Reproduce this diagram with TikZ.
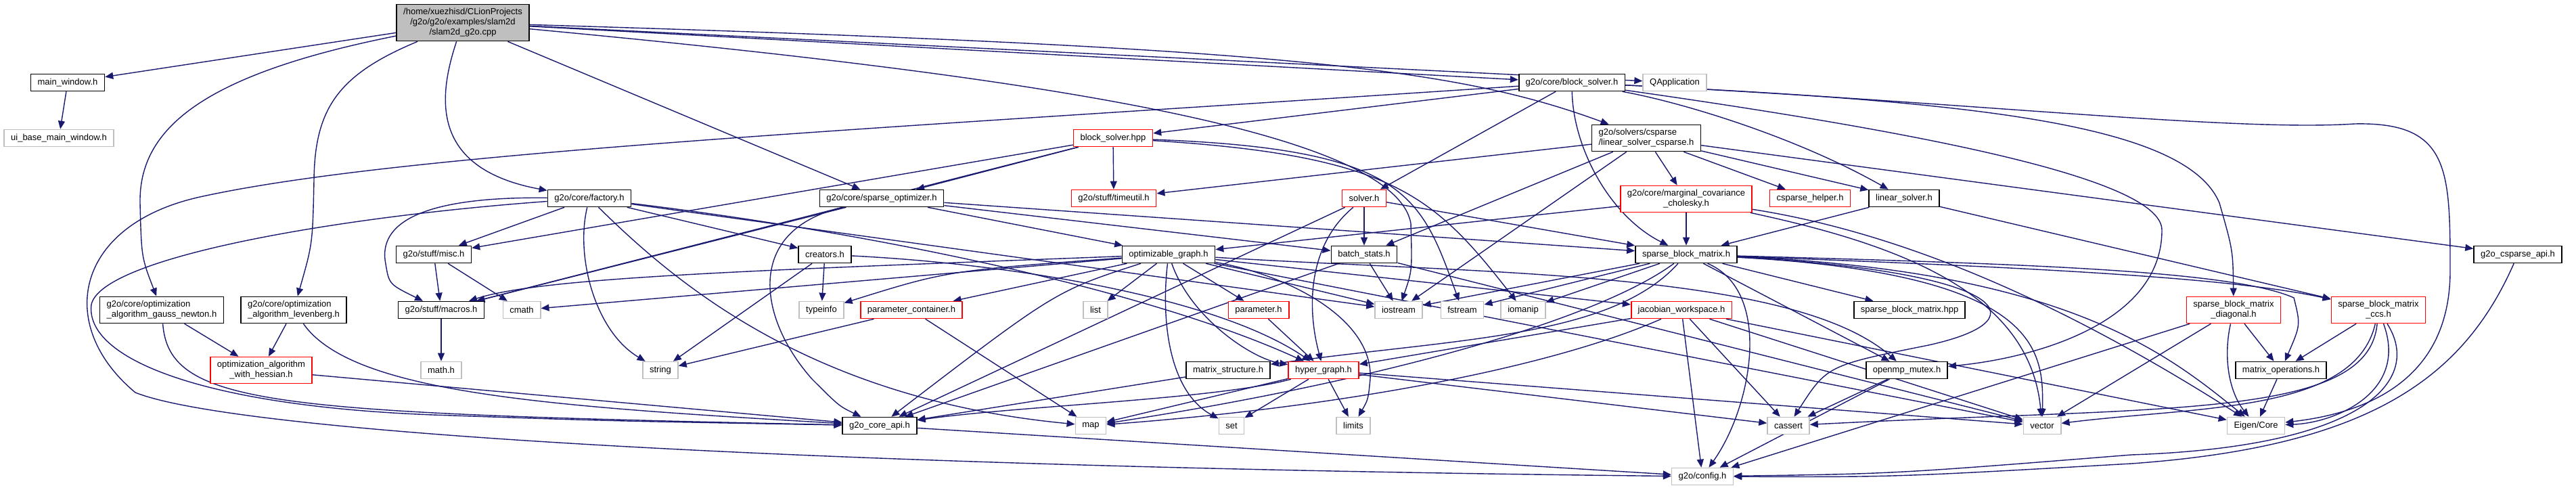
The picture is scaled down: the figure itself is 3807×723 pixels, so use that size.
\documentclass[tikz,border=0pt]{standalone}
\usepackage{fontspec}
\setmainfont{Liberation Sans}
\usetikzlibrary{arrows.meta}
\definecolor{edgeblue}{HTML}{191970}
\definecolor{sysgray}{HTML}{BFBFBF}
\pgfdeclarelayer{bg}
\pgfsetlayers{bg,main}

\begin{document}
\begin{tikzpicture}[x=1pt,y=-1pt,
  filebox/.style={draw=black, fill=white, line width=1.6pt, font=\fontsize{13}{15}\selectfont,
    align=center, inner xsep=10pt, inner ysep=6pt, minimum height=25pt},
  redbox/.style={filebox, draw=red},
  sysbox/.style={filebox, draw=sysgray},
  rootbox/.style={filebox, fill=sysgray},
  edge/.style={draw=edgeblue, line width=1.4pt, -{Triangle[length=12pt,width=10pt]}}]
  \useasboundingbox (0,0) rectangle (3807,723);

  % files
  \node[rootbox] (slam) at (684,33.5) {/home/xuezhisd/CLionProjects\\/g2o/g2o/examples/slam2d\\/slam2d\_g2o.cpp};
  \node[filebox] (mainwin) at (100,122) {main\_window.h};
  \node[sysbox] (uibase) at (87,204) {ui\_base\_main\_window.h};
  \node[filebox] (bsolver) at (2323,122) {g2o/core/block\_solver.h};
  \node[sysbox] (qapp) at (2475,122) {QApplication};
  \node[redbox] (bsolverhpp) at (1645,204) {block\_solver.hpp};
  \node[filebox, align=left] (lscsparse) at (2433,204) {g2o/solvers/csparse\\/linear\_solver\_csparse.h};
  \node[filebox] (factory) at (871,293) {g2o/core/factory.h};
  \node[filebox] (sparseopt) at (1303,293) {g2o/core/sparse\_optimizer.h};
  \node[redbox] (timeutil) at (1646,293) {g2o/stuff/timeutil.h};
  \node[redbox] (solver) at (2016,293) {solver.h};
  \node[redbox] (margcov) at (2492,294) {g2o/core/marginal\_covariance\\\_cholesky.h};
  \node[redbox] (cshelper) at (2675,293) {csparse\_helper.h};
  \node[filebox] (linsolver) at (2814,293) {linear\_solver.h};
  \node[filebox] (misc) at (641,376) {g2o/stuff/misc.h};
  \node[filebox] (creators) at (1219,376) {creators.h};
  \node[filebox] (optgraph) at (1727,376) {optimizable\_graph.h};
  \node[filebox] (batchstats) at (2016,376) {batch\_stats.h};
  \node[filebox] (spblock) at (2492,376) {sparse\_block\_matrix.h};
  \node[filebox] (csapi) at (3721,376) {g2o\_csparse\_api.h};
  \node[filebox, align=left] (gaussnewton) at (239,458) {g2o/core/optimization\\\_algorithm\_gauss\_newton.h};
  \node[filebox, align=left] (levenberg) at (434,458) {g2o/core/optimization\\\_algorithm\_levenberg.h};
  \node[filebox] (macros) at (652,458) {g2o/stuff/macros.h};
  \node[sysbox] (cmath) at (771,458) {cmath};
  \node[sysbox] (typeinfo) at (1214,458) {typeinfo};
  \node[redbox] (paramcont) at (1347,458) {parameter\_container.h};
  \node[sysbox] (list) at (1619,458) {list};
  \node[redbox] (param) at (1860,458) {parameter.h};
  \node[sysbox] (iostream) at (2067,458) {iostream};
  \node[sysbox] (fstream) at (2161,458) {fstream};
  \node[sysbox] (iomanip) at (2251,458) {iomanip};
  \node[redbox] (jacws) at (2485,458) {jacobian\_workspace.h};
  \node[filebox] (spblockhpp) at (2822,458) {sparse\_block\_matrix.hpp};
  \node[redbox] (spblockdiag) at (3301,458) {sparse\_block\_matrix\\\_diagonal.h};
  \node[redbox] (spblockccs) at (3515,458) {sparse\_block\_matrix\\\_ccs.h};
  \node[redbox] (hessian) at (386,547) {optimization\_algorithm\\\_with\_hessian.h};
  \node[sysbox] (mathh) at (652,547) {math.h};
  \node[sysbox] (string) at (976,547) {string};
  \node[filebox] (matstruct) at (1815,547) {matrix\_structure.h};
  \node[redbox] (hypergraph) at (1956,547) {hyper\_graph.h};
  \node[filebox] (ompmutex) at (2818,547) {openmp\_mutex.h};
  \node[filebox] (matops) at (3371,547) {matrix\_operations.h};
  \node[filebox] (coreapi) at (1300,629) {g2o\_core\_api.h};
  \node[sysbox] (map) at (1612,629) {map};
  \node[sysbox] (set) at (1820,629) {set};
  \node[sysbox] (limits) at (2000,629) {limits};
  \node[sysbox] (cassert) at (2643,629) {cassert};
  \node[sysbox] (vector) at (3018,629) {vector};
  \node[sysbox] (eigen) at (3334,629) {Eigen/Core};
  \node[sysbox] (config) at (2516,704) {g2o/config.h};

  \begin{pgfonlayer}{bg}
  % includes of the example
  \draw[edge] (slam) -- (mainwin);
  \draw[edge] (slam) .. controls (300,110) and (205,190) .. (207,300) .. controls (209,380) .. (gaussnewton);
  \draw[edge] (slam) .. controls (500,110) and (465,160) .. (464,267) .. controls (462,360) .. (levenberg);
  \draw[edge] (slam) .. controls (645,150) and (640,250) .. (factory);
  \draw[edge] (slam) -- (sparseopt);
  \draw[edge] (slam) -- (bsolver);
  \draw[edge] (slam) -- (qapp);
  \draw[edge] (slam) .. controls (1900,70) and (2150,100) .. (lscsparse);
  \draw[edge] (slam) .. controls (1500,110) and (2060,190) .. (2085,330) .. controls (2087,400) .. (iostream);
  \draw[edge] (mainwin) -- (uibase);

  % block solver
  \draw[edge] (bsolver) -- (bsolverhpp);
  \draw[edge] (bsolver) -- (solver);
  \draw[edge] (bsolver) .. controls (2325,220) and (2380,320) .. (spblock);
  \draw[edge] (bsolver) .. controls (2480,150) and (2650,200) .. (linsolver);
  \draw[edge] (bsolver) .. controls (2900,150) and (3230,180) .. (3280,300) .. controls (3300,370) .. (spblockdiag);
  \draw[edge] (bsolver) .. controls (2900,150) and (3300,195) .. (3480,183) .. controls (3620,180) and (3621,250) .. (3621,400) .. controls (3621,560) and (3500,610) .. (eigen);
  \draw[edge] (bsolver) .. controls (2800,190) and (3195,260) .. (3195,340) .. controls (3195,480) and (3000,530) .. (ompmutex);
  \draw[edge] (bsolver) .. controls (1300,190) and (600,225) .. (300,290) .. controls (110,330) and (80,480) .. (200,580) .. controls (350,640) and (1200,690) .. (config);
  \draw[edge] (bsolverhpp) -- (sparseopt);
  \draw[edge] (bsolverhpp) -- (timeutil);
  \draw[edge] (bsolverhpp) -- (misc);
  \draw[edge] (bsolverhpp) -- (macros);
  \draw[edge] (bsolverhpp) .. controls (2080,220) and (2100,290) .. (fstream);
  \draw[edge] (bsolverhpp) .. controls (2060,230) and (2120,290) .. (iomanip);

  % csparse solver
  \draw[edge] (lscsparse) -- (timeutil);
  \draw[edge] (lscsparse) -- (margcov);
  \draw[edge] (lscsparse) -- (cshelper);
  \draw[edge] (lscsparse) -- (linsolver);
  \draw[edge] (lscsparse) -- (csapi);
  \draw[edge] (lscsparse) -- (batchstats);
  \draw[edge] (lscsparse) -- (iostream);

  % factory and optimizer
  \draw[edge] (factory) -- (misc);
  \draw[edge] (factory) -- (creators);
  \draw[edge] (factory) .. controls (1300,345) and (1700,430) .. (hypergraph);
  \draw[edge] (factory) .. controls (850,380) and (880,490) .. (string);
  \draw[edge] (factory) .. controls (1000,420) and (1200,590) .. (map);
  \draw[edge] (factory) -- (iostream);
  \draw[edge] (factory) .. controls (600,290) and (560,340) .. (570,390) .. controls (575,420) .. (macros);
  \draw[edge] (factory) .. controls (500,320) and (150,380) .. (135,450) .. controls (125,530) and (300,600) .. (640,613) .. controls (900,622) .. (coreapi);
  \draw[edge] (sparseopt) -- (optgraph);
  \draw[edge] (sparseopt) -- (spblock);
  \draw[edge] (sparseopt) -- (batchstats);
  \draw[edge] (sparseopt) -- (macros);
  \draw[edge] (sparseopt) .. controls (1100,340) and (1120,470) .. (1200,560) .. controls (1240,600) .. (coreapi);

  % optimizable graph
  \draw[edge] (optgraph) .. controls (1100,400) and (800,410) .. (macros);
  \draw[edge] (optgraph) -- (cmath);
  \draw[edge] (optgraph) .. controls (1400,400) .. (typeinfo);
  \draw[edge] (optgraph) -- (paramcont);
  \draw[edge] (optgraph) .. controls (1560,430) .. (coreapi);
  \draw[edge] (optgraph) -- (list);
  \draw[edge] (optgraph) -- (param);
  \draw[edge] (optgraph) .. controls (1760,470) and (1850,530) .. (hypergraph);
  \draw[edge] (optgraph) .. controls (1715,480) and (1730,580) .. (set);
  \draw[edge] (optgraph) .. controls (1900,405) and (2030,470) .. (2025,560) .. controls (2022,590) .. (limits);
  \draw[edge] (optgraph) -- (iostream);
  \draw[edge] (optgraph) -- (jacws);
  \draw[edge] (optgraph) .. controls (2200,405) and (2650,400) .. (ompmutex);
  \draw[edge] (optgraph) -- (vector);
  \draw[edge] (margcov) -- (optgraph);
  \draw[edge] (margcov) -- (spblock);
  \draw[edge] (margcov) .. controls (2800,360) and (3000,430) .. (vector);
  \draw[edge] (margcov) .. controls (2850,350) and (3100,480) .. (eigen);
  \draw[edge] (solver) .. controls (1935,360) and (1930,450) .. (hypergraph);
  \draw[edge] (solver) -- (batchstats);
  \draw[edge] (solver) -- (spblock);
  \draw[edge] (solver) -- (coreapi);
  \draw[edge] (batchstats) -- (iostream);
  \draw[edge] (batchstats) -- (coreapi);
  \draw[edge] (batchstats) -- (vector);

  % hyper graph
  \draw[edge] (paramcont) -- (map);
  \draw[edge] (paramcont) -- (string);
  \draw[edge] (param) -- (hypergraph);
  \draw[edge] (creators) -- (typeinfo);
  \draw[edge] (creators) -- (string);
  \draw[edge] (creators) .. controls (1500,390) and (1800,440) .. (hypergraph);
  \draw[edge] (hypergraph) -- (map);
  \draw[edge] (hypergraph) -- (set);
  \draw[edge] (hypergraph) -- (limits);
  \draw[edge] (hypergraph) .. controls (1800,590) and (1500,600) .. (coreapi);
  \draw[edge] (hypergraph) -- (vector);
  \draw[edge] (hypergraph) -- (cassert);
  \draw[edge] (matstruct) -- (coreapi);
  \draw[edge] (jacws) -- (hypergraph);
  \draw[edge] (jacws) .. controls (2300,540) and (2000,600) .. (map);
  \draw[edge] (jacws) -- (cassert);
  \draw[edge] (jacws) -- (vector);
  \draw[edge] (jacws) -- (config);
  \draw[edge] (jacws) -- (eigen);
  \draw[edge] (ompmutex) -- (cassert);
  \draw[edge] (ompmutex) -- (config);

  % sparse block matrix
  \draw[edge] (spblock) -- (iostream);
  \draw[edge] (spblock) -- (fstream);
  \draw[edge] (spblock) -- (iomanip);
  \draw[edge] (spblock) -- (spblockhpp);
  \draw[edge] (spblock) .. controls (2380,500) and (2150,500) .. (matstruct);
  \draw[edge] (spblock) .. controls (2350,480) and (2000,570) .. (map);
  \draw[edge] (spblock) .. controls (2620,430) and (2590,600) .. (config);
  \draw[edge] (spblock) -- (ompmutex);
  \draw[edge] (spblock) .. controls (2950,400) and (3030,470) .. (2850,510) .. controls (2700,540) .. (cassert);
  \draw[edge] (spblock) .. controls (3020,405) and (3020,520) .. (vector);
  \draw[edge] (spblock) .. controls (3050,400) and (3200,520) .. (eigen);
  \draw[edge] (spblock) .. controls (3000,395) and (3300,410) .. (spblockccs);
  \draw[edge] (spblock) .. controls (3000,390) and (3300,400) .. (3390,440) .. controls (3400,480) .. (matops);
  \draw[edge] (linsolver) -- (spblock);
  \draw[edge] (linsolver) -- (spblockccs);
  \draw[edge] (spblockdiag) -- (matops);
  \draw[edge] (spblockdiag) -- (vector);
  \draw[edge] (spblockdiag) -- (config);
  \draw[edge] (spblockdiag) .. controls (3285,530) and (3295,580) .. (eigen);
  \draw[edge] (spblockccs) -- (matops);
  \draw[edge] (spblockccs) .. controls (3560,580) and (3450,625) .. (eigen);
  \draw[edge] (spblockccs) .. controls (3500,620) and (3200,600) .. (cassert);
  \draw[edge] (spblockccs) .. controls (3480,610) and (3250,600) .. (vector);
  \draw[edge] (spblockccs) .. controls (3580,560) and (3500,660) .. (3150,672) .. controls (2800,700) .. (config);
  \draw[edge] (matops) -- (eigen);
  \draw[edge] (csapi) .. controls (3640,560) and (3500,660) .. (3150,685) .. controls (2800,705) .. (config);

  % algorithms
  \draw[edge] (gaussnewton) -- (hessian);
  \draw[edge] (gaussnewton) .. controls (250,600) and (400,610) .. (coreapi);
  \draw[edge] (levenberg) -- (hessian);
  \draw[edge] (levenberg) .. controls (520,580) and (800,600) .. (coreapi);
  \draw[edge] (hessian) -- (coreapi);
  \draw[edge] (misc) -- (macros);
  \draw[edge] (misc) -- (cmath);
  \draw[edge] (macros) -- (mathh);
  \draw[edge] (coreapi) -- (config);
  \end{pgfonlayer}
\end{tikzpicture}
\end{document}
